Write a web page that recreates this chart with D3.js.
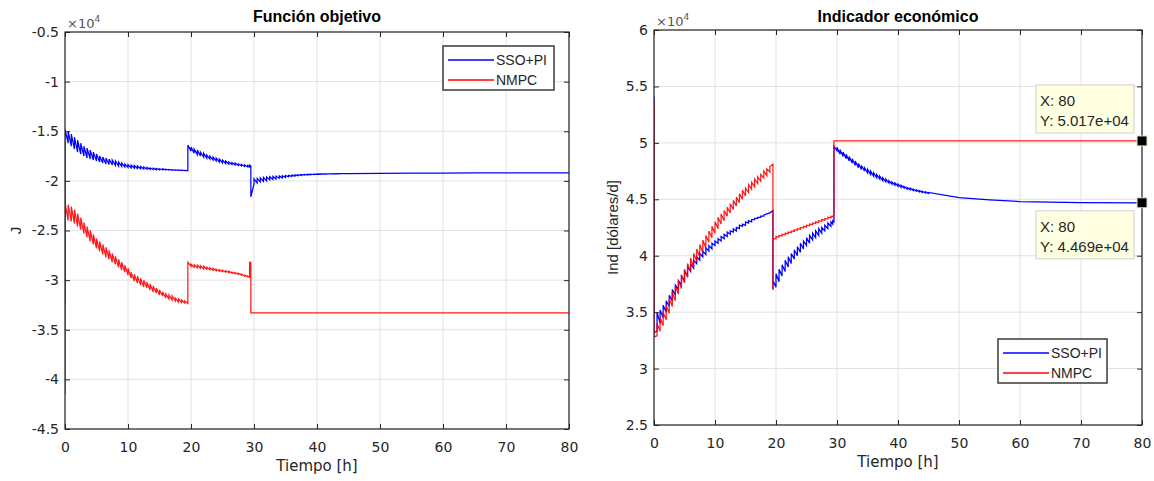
<!DOCTYPE html>
<html><head><meta charset="utf-8">
<script src="https://cdn.jsdelivr.net/npm/d3@7"></script>
<style>
body{margin:0;background:#fff;}
</style></head><body>
<svg id="c" width="1154" height="481" font-family='"Liberation Sans",Arial,Helvetica,sans-serif'></svg>
<script>
// ---- shared time instants [h] (each instant: value just before -> value just after) ----
const tiempo = [0,0.5,1,1.5,2,2.5,3,3.5,4,4.5,5,5.5,6,6.5,7,7.5,8,8.5,9,9.5,10,10.5,11,11.5,12,12.5,13,13.5,14,14.5,15,15.5,16,16.5,17,17.5,18,18.5,19,19.5,
 19.5,
 20,20.5,21,21.5,22,22.5,23,23.5,24,24.5,25,25.5,26,26.5,27,27.5,28,28.5,29,
 29.3,29.5,
 30,30.5,31,31.5,32,32.5,33,33.5,34,34.5,35,35.5,36,36.5,37,37.5,38,38.5,39,39.5,40,40.5,41,41.5,42,42.5,43,43.5,44,44.5,45,
 50,55,60,65,70,80];

// ---- Función objetivo J (x10^4) ----
const jSsoPre = [
 -3.23,-1.62,-1.65,-1.68,-1.71,-1.73,-1.75,-1.77,-1.78,-1.79,-1.80,-1.81,-1.82,-1.83,-1.835,-1.84,-1.845,-1.85,-1.855,-1.86,-1.865,-1.87,-1.872,-1.875,-1.878,-1.88,-1.882,-1.884,-1.886,-1.887,-1.888,-1.889,-1.89,-1.891,-1.892,-1.893,-1.894,-1.895,-1.896,-1.897,
 -1.64,
 -1.70,-1.72,-1.735,-1.75,-1.76,-1.77,-1.78,-1.79,-1.80,-1.81,-1.82,-1.825,-1.83,-1.835,-1.84,-1.845,-1.85,-1.855,-1.86,
 -1.86,-1.85,
 -2.03,-2.02,-2.01,-2.005,-2.0,-1.99,-1.985,-1.98,-1.975,-1.97,-1.965,-1.96,-1.955,-1.952,-1.948,-1.945,-1.942,-1.94,-1.938,-1.936,-1.934,-1.933,-1.932,-1.931,-1.930,-1.930,-1.929,-1.929,-1.928,-1.928,-1.927,
 -1.924,-1.922,-1.921,-1.92,-1.92,-1.92];
const jSsoPost = [
 -1.48,-1.50,-1.53,-1.56,-1.59,-1.62,-1.65,-1.67,-1.69,-1.71,-1.73,-1.75,-1.76,-1.77,-1.78,-1.79,-1.80,-1.81,-1.82,-1.83,-1.835,-1.84,-1.845,-1.85,-1.855,-1.86,-1.865,-1.87,-1.872,-1.875,-1.878,-1.88,-1.883,-1.885,-1.887,-1.889,-1.89,-1.892,-1.894,-1.64,
 -1.64,
 -1.66,-1.68,-1.69,-1.71,-1.72,-1.74,-1.75,-1.76,-1.77,-1.78,-1.79,-1.80,-1.81,-1.815,-1.82,-1.83,-1.835,-1.84,-1.845,
 -1.84,-2.16,
 -1.98,-1.975,-1.97,-1.965,-1.96,-1.958,-1.955,-1.952,-1.95,-1.948,-1.946,-1.944,-1.942,-1.94,-1.938,-1.936,-1.935,-1.934,-1.933,-1.932,-1.931,-1.930,-1.930,-1.929,-1.929,-1.928,-1.928,-1.927,-1.927,-1.926,-1.926,
 -1.924,-1.922,-1.921,-1.92,-1.92,-1.92];
const jNmpcPre = [
 -4.15,-2.40,-2.41,-2.43,-2.46,-2.49,-2.53,-2.57,-2.61,-2.64,-2.68,-2.71,-2.74,-2.77,-2.79,-2.82,-2.84,-2.87,-2.90,-2.92,-2.95,-2.98,-3.01,-3.03,-3.05,-3.07,-3.08,-3.10,-3.12,-3.13,-3.15,-3.16,-3.18,-3.19,-3.20,-3.21,-3.22,-3.225,-3.23,-3.235,
 -2.82,
 -2.86,-2.87,-2.875,-2.88,-2.885,-2.89,-2.895,-2.90,-2.905,-2.91,-2.915,-2.92,-2.925,-2.93,-2.935,-2.94,-2.95,-2.96,-2.965,
 -2.97,-2.82,
 -3.33,-3.33,-3.33,-3.33,-3.33,-3.33,-3.33,-3.33,-3.33,-3.33,-3.33,-3.33,-3.33,-3.33,-3.33,-3.33,-3.33,-3.33,-3.33,-3.33,-3.33,-3.33,-3.33,-3.33,-3.33,-3.33,-3.33,-3.33,-3.33,-3.33,-3.33,
 -3.33,-3.33,-3.33,-3.33,-3.33,-3.33];
const jNmpcPost = [
 -2.22,-2.24,-2.26,-2.29,-2.33,-2.37,-2.42,-2.46,-2.50,-2.54,-2.58,-2.61,-2.64,-2.67,-2.70,-2.73,-2.76,-2.79,-2.82,-2.85,-2.88,-2.92,-2.94,-2.96,-2.98,-3.00,-3.02,-3.04,-3.06,-3.08,-3.10,-3.12,-3.14,-3.15,-3.16,-3.18,-3.19,-3.20,-3.21,-2.82,
 -2.82,
 -2.84,-2.845,-2.85,-2.855,-2.86,-2.87,-2.875,-2.88,-2.89,-2.895,-2.90,-2.905,-2.91,-2.92,-2.925,-2.93,-2.94,-2.95,-2.96,
 -2.82,-3.33,
 -3.33,-3.33,-3.33,-3.33,-3.33,-3.33,-3.33,-3.33,-3.33,-3.33,-3.33,-3.33,-3.33,-3.33,-3.33,-3.33,-3.33,-3.33,-3.33,-3.33,-3.33,-3.33,-3.33,-3.33,-3.33,-3.33,-3.33,-3.33,-3.33,-3.33,-3.33,
 -3.33,-3.33,-3.33,-3.33,-3.33,-3.33];

// ---- Indicador económico (x10^4 dólares/d) ----
const indSsoPre = [
 5.41,3.33,3.40,3.45,3.50,3.55,3.60,3.65,3.70,3.74,3.78,3.82,3.86,3.89,3.93,3.96,3.99,4.01,4.04,4.06,4.09,4.11,4.13,4.15,4.17,4.19,4.21,4.22,4.24,4.26,4.27,4.29,4.30,4.32,4.33,4.34,4.35,4.37,4.38,4.40,
 3.70,
 3.72,3.77,3.82,3.86,3.90,3.93,3.97,4.00,4.03,4.06,4.09,4.11,4.14,4.16,4.18,4.20,4.22,4.24,4.26,
 4.28,4.30,
 4.93,4.90,4.88,4.86,4.84,4.82,4.80,4.78,4.765,4.75,4.735,4.72,4.705,4.69,4.68,4.665,4.655,4.645,4.635,4.625,4.615,4.605,4.60,4.59,4.585,4.578,4.572,4.566,4.561,4.556,4.552,
 4.515,4.495,4.48,4.474,4.471,4.469];
const indSsoPost = [
 3.32,3.50,3.52,3.56,3.60,3.65,3.70,3.74,3.78,3.82,3.86,3.90,3.93,3.96,3.99,4.02,4.04,4.07,4.09,4.11,4.13,4.15,4.17,4.19,4.21,4.22,4.24,4.25,4.27,4.28,4.30,4.31,4.32,4.33,4.34,4.35,4.36,4.37,4.38,3.70,
 3.78,
 3.84,3.88,3.92,3.96,3.99,4.02,4.05,4.08,4.11,4.13,4.16,4.18,4.20,4.22,4.24,4.25,4.27,4.29,4.30,
 4.31,4.97,
 4.96,4.94,4.92,4.90,4.88,4.86,4.84,4.82,4.80,4.78,4.765,4.75,4.735,4.72,4.705,4.69,4.68,4.665,4.655,4.645,4.635,4.625,4.615,4.605,4.60,4.59,4.583,4.577,4.571,4.566,4.561,
 4.515,4.495,4.48,4.474,4.471,4.469];
const indNmpcPre = [
 5.35,3.29,3.33,3.38,3.43,3.49,3.55,3.60,3.66,3.71,3.76,3.81,3.86,3.90,3.95,3.99,4.03,4.07,4.12,4.16,4.20,4.24,4.28,4.31,4.35,4.38,4.41,4.44,4.47,4.50,4.53,4.56,4.59,4.61,4.64,4.66,4.69,4.71,4.74,4.81,
 3.70,
 4.15,4.165,4.175,4.185,4.195,4.205,4.215,4.225,4.235,4.245,4.255,4.265,4.275,4.285,4.295,4.305,4.315,4.325,4.335,
 4.345,4.35,
 5.017,5.017,5.017,5.017,5.017,5.017,5.017,5.017,5.017,5.017,5.017,5.017,5.017,5.017,5.017,5.017,5.017,5.017,5.017,5.017,5.017,5.017,5.017,5.017,5.017,5.017,5.017,5.017,5.017,5.017,5.017,
 5.017,5.017,5.017,5.017,5.017,5.017];
const indNmpcPost = [
 3.28,3.40,3.45,3.50,3.56,3.62,3.68,3.73,3.78,3.83,3.88,3.93,3.98,4.02,4.06,4.10,4.14,4.18,4.22,4.26,4.30,4.34,4.37,4.40,4.43,4.46,4.49,4.52,4.55,4.58,4.60,4.63,4.65,4.68,4.70,4.72,4.75,4.77,4.79,3.70,
 4.15,
 4.17,4.18,4.19,4.20,4.21,4.22,4.23,4.24,4.25,4.26,4.27,4.28,4.29,4.30,4.31,4.32,4.33,4.34,4.35,
 4.35,5.017,
 5.017,5.017,5.017,5.017,5.017,5.017,5.017,5.017,5.017,5.017,5.017,5.017,5.017,5.017,5.017,5.017,5.017,5.017,5.017,5.017,5.017,5.017,5.017,5.017,5.017,5.017,5.017,5.017,5.017,5.017,5.017,
 5.017,5.017,5.017,5.017,5.017,5.017];

// ---- ticks, labels ----
const xTicks = [0,10,20,30,40,50,60,70,80];
const jTicks = [-4.5,-4,-3.5,-3,-2.5,-2,-1.5,-1,-0.5];
const indTicks = [2.5,3,3.5,4,4.5,5,5.5,6];
const seriesNames = ["SSO+PI","NMPC"];
const seriesColors = ["#0000ff","#ff0000"];
const tipX = [80,80];
const tipY = [5.017,4.469];
const tipLabels = ["5.017e+04","4.469e+04"];

const FONT = '"Liberation Sans",Arial,Helvetica,sans-serif';
const TFONT = '"DejaVu Sans",Verdana,sans-serif';
const INK = "#262626";
const svg = d3.select("#c");

function panel(o){
  const g = svg.append("g");
  const x = d3.scaleLinear().domain([0,80]).range([o.left,o.right]);
  const y = d3.scaleLinear().domain([o.yTicks[0],o.yTicks[o.yTicks.length-1]]).range([o.bottom,o.top]);
  g.append("rect").attr("x",o.left).attr("y",o.top).attr("width",o.right-o.left).attr("height",o.bottom-o.top).attr("fill","#fff");
  // grid
  g.append("g").selectAll("line").data(xTicks).join("line")
    .attr("x1",d=>x(d)).attr("x2",d=>x(d)).attr("y1",o.top).attr("y2",o.bottom)
    .attr("stroke","#e2e2e2").attr("stroke-width",1);
  g.append("g").selectAll("line").data(o.yTicks).join("line")
    .attr("y1",d=>y(d)).attr("y2",d=>y(d)).attr("x1",o.left).attr("x2",o.right)
    .attr("stroke","#e2e2e2").attr("stroke-width",1);
  // clip
  const cid = "clip"+o.id;
  svg.append("defs").append("clipPath").attr("id",cid).append("rect")
    .attr("x",o.left).attr("y",o.top-1).attr("width",o.right-o.left+1).attr("height",o.bottom-o.top+2);
  const line = d3.line().x(d=>x(d[0])).y(d=>y(d[1]));
  o.series.forEach((s,k)=>{
    const pts = tiempo.flatMap((t,i)=>[[t,s.pre[i]],[t,s.post[i]]]);
    g.append("path").attr("clip-path",`url(#${cid})`).attr("d",line(pts))
      .attr("fill","none").attr("stroke",seriesColors[k]).attr("stroke-width",1.25)
      .attr("stroke-opacity",k===1?0.9:1).attr("stroke-linejoin","miter");
  });
  // axes
  const fmt = d=>String(d);
  const style = sel=>{ sel.attr("font-size",14).attr("font-family",TFONT).attr("color",INK); sel.select(".domain").remove(); };
  g.append("g").attr("transform",`translate(0,${o.bottom})`)
    .call(d3.axisBottom(x).tickValues(xTicks).tickSize(-5).tickPadding(13).tickFormat(fmt)).call(style);
  g.append("g").attr("transform",`translate(0,${o.top})`)
    .call(d3.axisTop(x).tickValues(xTicks).tickSize(-5).tickFormat("")).call(style);
  g.append("g").attr("transform",`translate(${o.left},0)`)
    .call(d3.axisLeft(y).tickValues(o.yTicks).tickSize(-5).tickPadding(6).tickFormat(fmt)).call(style);
  g.append("g").attr("transform",`translate(${o.right},0)`)
    .call(d3.axisRight(y).tickValues(o.yTicks).tickSize(-5).tickFormat("")).call(style);
  g.append("rect").attr("x",o.left).attr("y",o.top).attr("width",o.right-o.left).attr("height",o.bottom-o.top)
    .attr("fill","none").attr("stroke",INK).attr("stroke-width",1.2);
  // exponent
  const ex = g.append("text").attr("x",o.left+2).attr("y",o.top-4).attr("font-size",13)
    .attr("font-family",TFONT).attr("fill","#555");
  ex.append("tspan").text("×10");
  ex.append("tspan").attr("font-size",9).attr("dy",-6).text("4");
  // title
  g.append("text").attr("x",(o.left+o.right)/2).attr("y",22).attr("text-anchor","middle")
    .attr("font-size",16).attr("font-weight","bold").attr("fill","#000").text(o.title);
  // x label
  g.append("text").attr("x",(o.left+o.right)/2).attr("y",o.bottom+42).attr("text-anchor","middle")
    .attr("font-size",15).attr("font-family",TFONT).attr("fill",INK).text("Tiempo [h]");
  // y label
  g.append("text").attr("transform",`translate(${o.ylx},${(o.top+o.bottom)/2}) rotate(-90)`)
    .attr("text-anchor","middle").attr("font-size",15).attr("fill",INK).text(o.ylabel);
  // legend
  const L = o.legend;
  g.append("rect").attr("x",L.x).attr("y",L.y).attr("width",L.w).attr("height",L.h)
    .attr("fill","#fff").attr("stroke","#3a3a3a").attr("stroke-width",1.5);
  seriesNames.forEach((n,k)=>{
    const yy = L.y + 14 + k*20;
    g.append("line").attr("x1",L.x+5).attr("x2",L.x+51).attr("y1",yy).attr("y2",yy)
      .attr("stroke",seriesColors[k]).attr("stroke-width",1.3);
    g.append("text").attr("x",L.x+53).attr("y",yy+5).attr("font-size",14).attr("fill",INK).text(n);
  });
  return {x,y,g};
}

panel({id:"a",left:65,right:569,top:32,bottom:429,yTicks:jTicks,title:"Función objetivo",ylabel:"J",ylx:21,
  series:[{pre:jSsoPre,post:jSsoPost},{pre:jNmpcPre,post:jNmpcPost}],
  legend:{x:443,y:46,w:111,h:44}});
const R = panel({id:"b",left:654,right:1142,top:30,bottom:425,yTicks:indTicks,title:"Indicador económico",ylabel:"Ind [dólares/d]",ylx:618,
  series:[{pre:indSsoPre,post:indSsoPost},{pre:indNmpcPre,post:indNmpcPost}],
  legend:{x:998,y:339,w:109,h:44}});

// data tips
tipX.forEach((tx,k)=>{
  const px = R.x(tx), py = R.y(tipY[k]);
  const w = 98, h = 48;
  const bx = px - 8 - w;
  const by = k===0 ? py - 8 - h : py + 8;
  R.g.append("rect").attr("x",bx).attr("y",by).attr("width",w).attr("height",h)
    .attr("fill","#ffffe1").attr("stroke","#cfcfcf").attr("stroke-width",1);
  R.g.append("text").attr("x",bx+4).attr("y",by+21).attr("font-size",15).attr("fill",INK).text("X: "+tx);
  R.g.append("text").attr("x",bx+4).attr("y",by+41).attr("font-size",15).attr("fill",INK).text("Y: "+tipLabels[k]);
  R.g.append("rect").attr("x",px-5).attr("y",py-5).attr("width",10).attr("height",10)
    .attr("fill","#000").attr("stroke","#e8e8c8").attr("stroke-width",1);
});
</script>
</body></html>
